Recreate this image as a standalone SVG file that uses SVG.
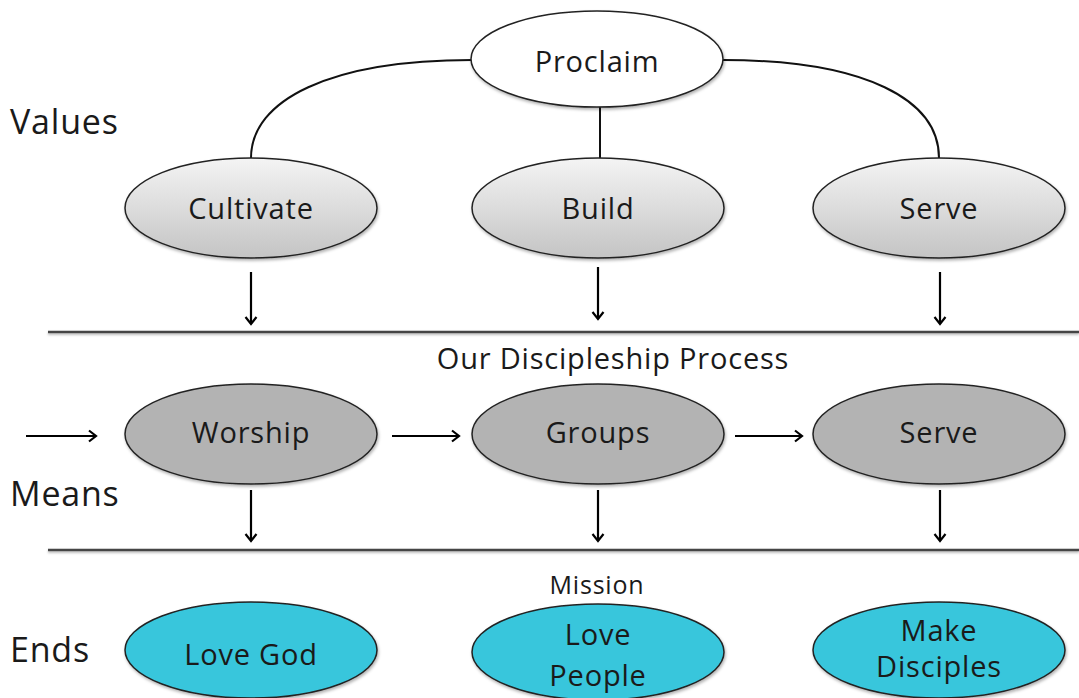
<svg xmlns="http://www.w3.org/2000/svg" width="1079" height="698" viewBox="0 0 1079 698">
<defs>
<linearGradient id="gTop" x1="0" y1="0" x2="0" y2="1">
<stop offset="0" stop-color="#f4f4f4"/>
<stop offset="1" stop-color="#c4c4c4"/>
</linearGradient>
<filter id="sh" x="-10%" y="-10%" width="130%" height="140%">
<feDropShadow dx="1" dy="2" stdDeviation="1.5" flood-color="#000" flood-opacity="0.3"/>
</filter>
<filter id="shl" filterUnits="userSpaceOnUse" x="0" y="0" width="1079" height="698">
<feDropShadow dx="0" dy="1.5" stdDeviation="1" flood-color="#000" flood-opacity="0.3"/>
</filter>
<marker id="arr" markerWidth="14" markerHeight="14" refX="11" refY="7" orient="auto" markerUnits="userSpaceOnUse">
<path d="M4,1.5 L11,7 L4,12.5" fill="none" stroke="#000" stroke-width="2.2"/>
</marker>
</defs>
<style>
.lbl{font-family:"Open Sans","Liberation Sans",sans-serif;fill:#1a1a1a;letter-spacing:0.8px}
.nt{font-family:"Open Sans","Liberation Sans",sans-serif;font-size:29px;fill:#1a1a1a;text-anchor:middle;letter-spacing:0.8px}
.e{stroke:#222;stroke-width:1.5;filter:url(#sh)}
.top{fill:url(#gTop)}
.mid{fill:#b3b3b3}
.end{fill:#38c6dc}
.con{stroke:#111;stroke-width:2;fill:none}
.arr{stroke:#000;stroke-width:2.2;fill:none;marker-end:url(#arr)}
.rule{stroke:#444;stroke-width:2.5;filter:url(#shl)}
</style>
<rect width="1079" height="698" fill="#fff"/>

<g id="labels">
<text class="lbl" x="10" y="134" font-size="34">Values</text>
<text class="lbl" x="10" y="506" font-size="34">Means</text>
<text class="lbl" x="10" y="662" font-size="34">Ends</text>
<text class="lbl" x="613" y="369" font-size="29" text-anchor="middle">Our Discipleship Process</text>
<text class="lbl" x="597" y="594" font-size="25" text-anchor="middle">Mission</text>
</g>

<g id="connectors">
<path class="con" d="M472,60 C330,60 251,100 251,158"/>
<path class="con" d="M723,60 C866,60 939,100 939,158"/>
<line class="con" x1="600" y1="107" x2="600" y2="158"/>
<line class="arr" x1="251" y1="272" x2="251" y2="324"/>
<line class="arr" x1="598" y1="267" x2="598" y2="319"/>
<line class="arr" x1="940" y1="272" x2="940" y2="324"/>
<line class="arr" x1="26" y1="436" x2="96" y2="436"/>
<line class="arr" x1="392" y1="436" x2="459" y2="436"/>
<line class="arr" x1="735" y1="436" x2="802" y2="436"/>
<line class="arr" x1="251" y1="490" x2="251" y2="541"/>
<line class="arr" x1="598" y1="490" x2="598" y2="541"/>
<line class="arr" x1="940" y1="490" x2="940" y2="541"/>
<line class="rule" x1="48" y1="332" x2="1079" y2="332"/>
<line class="rule" x1="48" y1="550" x2="1079" y2="550"/>
</g>

<g id="proclaim">
<ellipse class="e" cx="597" cy="59" rx="126" ry="48" fill="#fff"/>
<text class="nt" x="597" y="72">Proclaim</text>
</g>
<g id="cultivate">
<ellipse class="e top" cx="251" cy="208" rx="126" ry="50"/>
<text class="nt" x="251" y="219">Cultivate</text>
</g>
<g id="build">
<ellipse class="e top" cx="598" cy="208" rx="126" ry="50"/>
<text class="nt" x="598" y="219">Build</text>
</g>
<g id="serve-value">
<ellipse class="e top" cx="939" cy="208" rx="126" ry="50"/>
<text class="nt" x="939" y="219">Serve</text>
</g>
<g id="worship">
<ellipse class="e mid" cx="251" cy="434" rx="126" ry="50"/>
<text class="nt" x="251" y="443">Worship</text>
</g>
<g id="groups">
<ellipse class="e mid" cx="598" cy="434" rx="126" ry="50"/>
<text class="nt" x="598" y="443">Groups</text>
</g>
<g id="serve-means">
<ellipse class="e mid" cx="939" cy="434" rx="126" ry="50"/>
<text class="nt" x="939" y="443">Serve</text>
</g>
<g id="love-god">
<ellipse class="e end" cx="251" cy="650" rx="126" ry="48"/>
<text class="nt" x="251" y="665">Love God</text>
</g>
<g id="love-people">
<ellipse class="e end" cx="598" cy="652" rx="126" ry="48"/>
<text class="nt" x="598" y="645">Love</text>
<text class="nt" x="598" y="686">People</text>
</g>
<g id="make-disciples">
<ellipse class="e end" cx="939" cy="650" rx="126" ry="48"/>
<text class="nt" x="939" y="641" font-size="25">Make</text>
<text class="nt" x="939" y="677" font-size="25">Disciples</text>
</g>
</svg>
